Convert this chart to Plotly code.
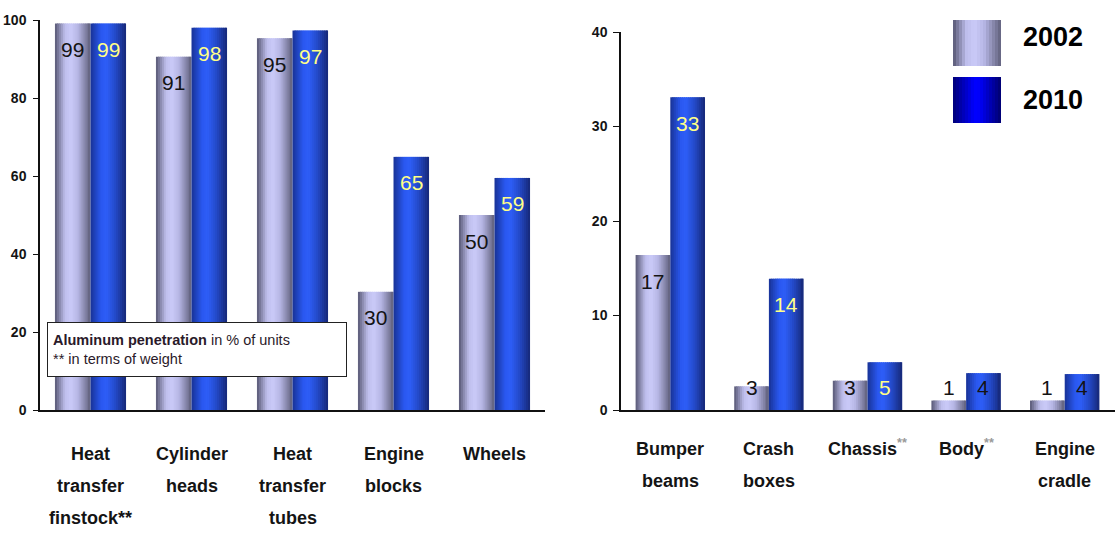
import plotly.graph_objects as go

# ---------------- data ----------------
categories_left = ["Heat transfer finstock**", "Cylinder heads", "Heat transfer tubes",
                   "Engine blocks", "Wheels"]
label_lines_left = [["Heat", "transfer", "finstock**"], ["Cylinder", "heads"],
                    ["Heat", "transfer", "tubes"], ["Engine", "blocks"], ["Wheels"]]
values_2002_left = [99.1, 90.6, 95.3, 30.3, 50.0]
values_2010_left = [99.1, 98.0, 97.3, 64.9, 59.5]
labels_2002_left = ["99", "91", "95", "30", "50"]
labels_2010_left = ["99", "98", "97", "65", "59"]

categories_right = ["Bumper beams", "Crash boxes", "Chassis**", "Body**", "Engine cradle"]
label_lines_right = [["Bumper", "beams"], ["Crash", "boxes"], ["Chassis**"], ["Body**"],
                     ["Engine", "cradle"]]
values_2002_right = [16.4, 2.5, 3.1, 1.0, 1.0]
values_2010_right = [33.1, 13.9, 5.05, 3.9, 3.8]
labels_2002_right = ["17", "3", "3", "1", "1"]
labels_2010_right = ["33", "14", "5", "4", "4"]

left_ticks = [0, 20, 40, 60, 80, 100]
right_ticks = [0, 10, 20, 30, 40]
series_names = ["2002", "2010"]

# ---------------- style ----------------
W, H = 1115, 534
FONT = "Liberation Sans, Arial, sans-serif"
INK = "#141414"
YEL = "#ffff88"
colors_2010_left = [YEL] * 5
colors_2010_right = [YEL, YEL, YEL, INK, INK]

STOPS_2002 = [(0.0, (88, 88, 116)), (0.28, (190, 190, 236)), (0.45, (202, 202, 248)),
              (0.65, (182, 182, 228)), (1.0, (96, 96, 124))]
STOPS_2010 = [(0.0, (24, 50, 150)), (0.3, (42, 88, 240)), (0.45, (46, 94, 248)),
              (0.7, (36, 74, 200)), (1.0, (22, 40, 120))]
STOPS_LEG_2010 = [(0.0, (0, 0, 120)), (0.45, (0, 0, 255)), (0.55, (0, 0, 250)), (1.0, (0, 0, 110))]


def interp(stops, t):
    for (t0, c0), (t1, c1) in zip(stops[:-1], stops[1:]):
        if t0 <= t <= t1:
            f = (t - t0) / (t1 - t0) if t1 > t0 else 0
            c = [round(a + (b - a) * f) for a, b in zip(c0, c1)]
            return "rgb(%d,%d,%d)" % tuple(c)
    return "rgb(%d,%d,%d)" % stops[-1][1]


N = 18
BW = 0.352

fig = go.Figure()


def add_series(cats, vals, off0, stops, xa, ya):
    for k in range(N):
        t = (k + 0.5) / N
        fig.add_trace(go.Bar(
            x=cats, y=vals, offset=off0 + k * BW / N,
            width=BW / N * (1.7 if k < N - 1 else 1.0),
            marker=dict(color=interp(stops, t), line=dict(width=0)),
            xaxis=xa, yaxis=ya, showlegend=False, hoverinfo="skip"))


add_series(categories_left, values_2002_left, -BW, STOPS_2002, "x", "y")
add_series(categories_left, values_2010_left, 0.0, STOPS_2010, "x", "y")
add_series(categories_right, values_2002_right, -BW, STOPS_2002, "x2", "y2")
add_series(categories_right, values_2010_right, 0.0, STOPS_2010, "x2", "y2")

# geometry of plot areas (px)
Y0, YTOP_L, YTOP_R = 410, 20, 32
XL0, XL1 = 40, 545
XR0, XR1 = 621, 1115
px_left = (Y0 - YTOP_L) / 100.0
px_right = (Y0 - YTOP_R) / 40.0

annotations = []


def value_labels(vals, labels, colors, side, xr, yr, ppu):
    for i, (v, lab, col) in enumerate(zip(vals, labels, colors)):
        xpos = i + side * BW / 2
        if v * ppu > 48:
            y, ys = v, -26
        else:
            y, ys = 0, 23
        annotations.append(dict(x=xpos, y=y, xref=xr, yref=yr, yshift=ys, text=lab,
                                showarrow=False, xanchor="center", yanchor="middle",
                                font=dict(family=FONT, size=21, color=col)))


value_labels(values_2002_left, labels_2002_left, [INK] * 5, -1, "x", "y", px_left)
value_labels(values_2010_left, labels_2010_left, colors_2010_left, 1, "x", "y", px_left)
value_labels(values_2002_right, labels_2002_right, [INK] * 5, -1, "x2", "y2", px_right)
value_labels(values_2010_right, labels_2010_right, colors_2010_right, 1, "x2", "y2", px_right)


def fmt_line(s):
    if s.endswith("**") and s != "finstock**":
        return s[:-2] + "<sup><span style='color:#9a9a9a'>**</span></sup>", 2
    return s, 0


def cat_labels(lines_list, xr, y_first):
    for i, lines in enumerate(lines_list):
        for j, ln in enumerate(lines):
            txt, ys = fmt_line(ln)
            annotations.append(dict(x=i, y=1 - (y_first + 32 * j) / H, xref=xr, yref="paper",
                                    text=txt, showarrow=False, yshift=ys,
                                    xanchor="center", yanchor="middle",
                                    font=dict(family=FONT, size=18, color=INK, weight="bold")))


cat_labels(label_lines_left, "x", 454)
cat_labels(label_lines_right, "x2", 449)

# note box
annotations.append(dict(
    x=47 / W, y=1 - 322 / H, xref="paper", yref="paper", xanchor="left", yanchor="top",
    showarrow=False, align="left", valign="middle", width=288, height=43,
    bgcolor="white", bordercolor="#222", borderwidth=1, borderpad=5,
    text="<b>Aluminum penetration</b> in % of units<br>** in terms of weight",
    font=dict(family=FONT, size=14.5, color="#2a1a2a")))

# legend (manual, large)
shapes = []
leg_items = [(series_names[0], STOPS_2002, 20, 66, 37), (series_names[1], STOPS_LEG_2010, 77, 123, 100)]
for name, stops, yt, yb, yc in leg_items:
    x0, x1 = 953, 1001
    M = 16
    for k in range(M):
        t = (k + 0.5) / M
        a = x0 + (x1 - x0) * k / M
        b = x0 + (x1 - x0) * (k + 1) / M + (0.6 if k < M - 1 else 0)
        shapes.append(dict(type="rect", xref="paper", yref="paper", x0=a / W, x1=b / W,
                           y0=1 - yb / H, y1=1 - yt / H, line=dict(width=0),
                           fillcolor=interp(stops, t), layer="above"))
    annotations.append(dict(x=1021 / W, y=1 - yc / H, xref="paper", yref="paper",
                            xanchor="left", yanchor="middle", showarrow=False,
                            text=name,
                            font=dict(family=FONT, size=27, color="#000", weight="bold")))

axis_common = dict(showgrid=False, zeroline=False, showline=True, linecolor="#111",
                   linewidth=1.5, automargin=False)

fig.update_layout(
    width=W, height=H, margin=dict(l=0, r=0, t=0, b=0, autoexpand=False),
    paper_bgcolor="white", plot_bgcolor="white", barmode="overlay", showlegend=False,
    xaxis=dict(domain=[XL0 / W, XL1 / W], type="category", range=[-0.5, 4.5],
               showticklabels=False, ticks="", anchor="y", **axis_common),
    yaxis=dict(domain=[1 - Y0 / H, 1 - YTOP_L / H], range=[0, 100], tickvals=left_ticks,
               ticks="outside", ticklen=5, tickcolor="#111", anchor="x",
               tickfont=dict(family=FONT, size=14, color=INK, weight="bold"),
               ticklabelstandoff=4, **axis_common),
    xaxis2=dict(domain=[XR0 / W, XR1 / W], type="category", range=[-0.5, 4.51],
                showticklabels=False, ticks="", anchor="y2", **axis_common),
    yaxis2=dict(domain=[1 - Y0 / H, 1 - YTOP_R / H], range=[0, 40], tickvals=right_ticks,
                ticks="outside", ticklen=6, tickcolor="#111", anchor="x2",
                tickfont=dict(family=FONT, size=14, color=INK, weight="bold"),
                ticklabelstandoff=3, **axis_common),
    annotations=annotations, shapes=shapes,
)

fig.write_html("out.html")
